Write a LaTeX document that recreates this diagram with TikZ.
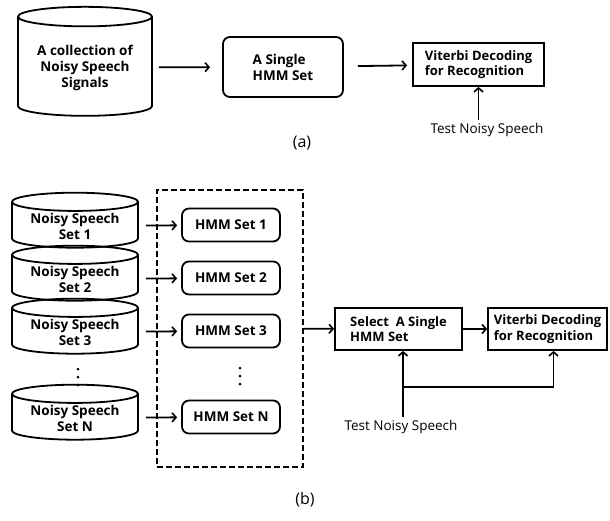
\documentclass[tikz,border=0pt]{standalone}
\usepackage{fontspec}
\setmainfont{Open Sans}
\usetikzlibrary{shapes.geometric,arrows.meta}
\tikzset{
    line/.style={line width=1.8pt,-{Straight Barb[length=4pt,width=9pt,line width=1.6pt]}},
    db/.style={cylinder,shape border rotate=90,draw,line width=1.8pt,aspect=0.2,align=center,font=\fontsize{13.5}{16}\selectfont\bfseries,inner sep=1pt},
    hmm/.style={draw,rounded corners=7pt,line width=1.8pt,align=left,font=\fontsize{13.5}{16}\selectfont\bfseries},
    stage/.style={draw,line width=1.8pt,align=left,font=\fontsize{13}{15.5}\selectfont\bfseries,inner xsep=4pt},
    plain/.style={font=\fontsize{13.5}{16}\selectfont},
    caption/.style={font=\fontsize{16}{18}\selectfont}
}
\begin{document}
\begin{tikzpicture}[x=1pt,y=-1pt]
    \useasboundingbox (0,0) rectangle (610,520);
    % (a)
    \node [db,minimum width=134,minimum height=109] (coll) at (85,67.5) {A collection of\\Noisy Speech\\ Signals};
    \node [hmm,minimum width=120,minimum height=60] (single) at (283,67) {A Single\\HMM Set};
    \node [stage,minimum width=131,minimum height=43] (vit) at (478.5,64.5) {Viterbi Decoding\\for Recognition};
    \node [plain] (testa) at (487,130) {Test Noisy Speech};
    \draw [line,shorten <=6pt,shorten >=12pt] (coll) -- (single);
    \draw [line,shorten <=14pt,shorten >=5pt] (single) -- (vit);
    \draw [line] (testa.north -| vit.south) -- (vit);
    \path (302,143) node [caption] (capa) {(a)};
    % (b)
    \node [draw,dash pattern=on 6pt off 3pt,line width=1.8pt,minimum width=146,minimum height=277] (bank) at (230,328.5) {};
    \foreach \i/\n/\y in {1/1/226,2/2/279,3/3/332,N/N/418}{
        \node [db,minimum width=126,minimum height=45] (speech\i) at (75,\y) {Noisy Speech\\Set \n};
        \node [hmm,minimum width=98,minimum height=33] (set\i) at (231,\y-1) {HMM Set \n};
        \draw [line,shorten <=7pt,shorten >=4pt] (speech\i) -- (set\i);
    }
    % vertical dots
    \foreach \d in {0,1,2}{
        \fill (78,369+8*\d) circle (1.5);
        \fill (240,368+8*\d) circle (1.5);
    }
    \node [stage,minimum width=127,minimum height=42] (select) at (398.5,329) {Select\ \ A Single\\HMM Set};
    \node [stage,minimum width=119,minimum height=42] (vitb) at (547.5,329) {Viterbi Decoding\\for Recognition};
    \node [plain] (testb) at (401,427) {Test Noisy Speech};
    \coordinate (fork) at (403,387);
    \draw [line] (bank) -- (select);
    \draw [line] (select) -- (vitb);
    \draw [line] (testb.north -| fork) -- (fork |- select.south);
    \draw [line] (fork) -| ([xshift=6pt]vitb.south);
    \path (305,500) node [caption] (capb) {(b)};
\end{tikzpicture}
\end{document}
